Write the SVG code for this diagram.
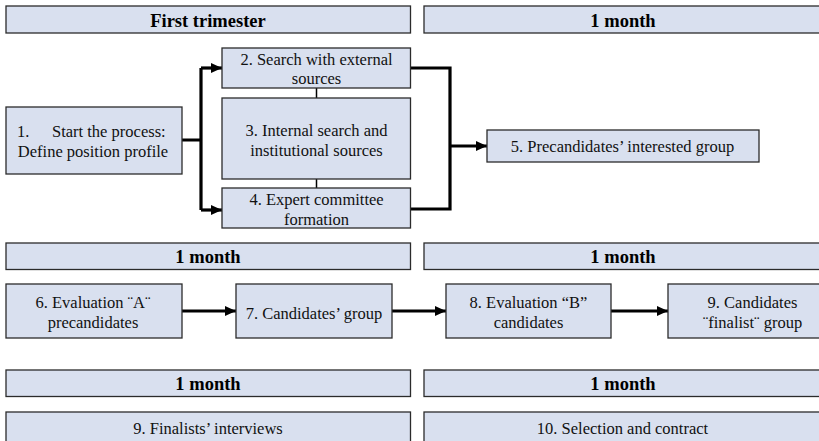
<svg xmlns="http://www.w3.org/2000/svg" width="819" height="441" viewBox="0 0 819 441">
  <style>
    .box { fill: #d9e0ef; stroke: #2b2b2b; stroke-width: 1.3; }
    .hdr { font-family: "Liberation Serif", "Times New Roman", serif; font-size: 18.5px; font-weight: bold; fill: #000; text-anchor: middle; }
    .lbl { font-family: "Liberation Serif", "Times New Roman", serif; font-size: 16.5px; fill: #111; text-anchor: middle; }
    .lbl.start { text-anchor: start; }
    .conn { fill: none; stroke: #000; stroke-width: 3.2; }
    .thin { fill: none; stroke: #000; stroke-width: 1.5; }
  </style>
  <defs>
    <marker id="arrow" markerUnits="userSpaceOnUse" markerWidth="12" markerHeight="12" viewBox="0 0 12 12" refX="11" refY="6" orient="auto">
      <path d="M0,1 L11,6 L0,11 Z" fill="#000"/>
    </marker>
  </defs>
  <rect width="819" height="441" fill="#fff"/>

  <!-- period headers -->
  <g id="hdr-first-trimester"><rect class="box" x="6" y="6" width="404.5" height="27"/><text class="hdr" x="208" y="26.5">First trimester</text></g>
  <g id="hdr-month-1"><rect class="box" x="424" y="6" width="400" height="27"/><text class="hdr" x="623" y="26.5">1 month</text></g>
  <g id="hdr-month-2"><rect class="box" x="6" y="243" width="404.5" height="26.5"/><text class="hdr" x="208" y="262.5">1 month</text></g>
  <g id="hdr-month-3"><rect class="box" x="424" y="243" width="400" height="26.5"/><text class="hdr" x="623" y="262.5">1 month</text></g>
  <g id="hdr-month-4"><rect class="box" x="6" y="370" width="404.5" height="26.5"/><text class="hdr" x="208" y="389.5">1 month</text></g>
  <g id="hdr-month-5"><rect class="box" x="424" y="370" width="400" height="26.5"/><text class="hdr" x="623" y="389.5">1 month</text></g>

  <!-- connectors -->
  <g id="connectors">
    <path class="conn" d="M182,140 H201 M201,68 V210"/>
    <path class="conn" d="M201,68 H222" marker-end="url(#arrow)"/>
    <path class="conn" d="M201,210 H222" marker-end="url(#arrow)"/>
    <path class="conn" d="M410.5,68 H450 V209 H410.5"/>
    <path class="conn" d="M450,146 H487" marker-end="url(#arrow)"/>
    <path class="thin" d="M316.5,88 V98 M316.5,179 V188"/>
    <path class="conn" d="M182,311 H236" marker-end="url(#arrow)"/>
    <path class="conn" d="M392,311 H446" marker-end="url(#arrow)"/>
    <path class="conn" d="M611,311 H668" marker-end="url(#arrow)"/>
  </g>

  <!-- process steps -->
  <g id="n1">
    <rect class="box" x="6" y="107" width="176" height="67"/>
    <text class="lbl start" x="17" y="137">1.</text>
    <text class="lbl start" x="52" y="137">Start the process:</text>
    <text class="lbl" x="93" y="157">Define position profile</text>
  </g>
  <g id="n2">
    <rect class="box" x="222" y="48" width="188.5" height="40"/>
    <text class="lbl" x="316.5" y="65">2. Search with external</text>
    <text class="lbl" x="316.5" y="84">sources</text>
  </g>
  <g id="n3">
    <rect class="box" x="222" y="98" width="188.5" height="81"/>
    <text class="lbl" x="316.5" y="135.5">3. Internal search and</text>
    <text class="lbl" x="316.5" y="155.5">institutional sources</text>
  </g>
  <g id="n4">
    <rect class="box" x="222" y="188" width="188.5" height="40"/>
    <text class="lbl" x="316.5" y="205">4. Expert committee</text>
    <text class="lbl" x="316.5" y="224.5">formation</text>
  </g>
  <g id="n5">
    <rect class="box" x="487" y="130" width="272" height="32"/>
    <text class="lbl" x="622.5" y="151.5">5. Precandidates’ interested group</text>
  </g>
  <g id="n6">
    <rect class="box" x="6" y="284" width="176" height="54"/>
    <text class="lbl" x="93" y="308">6. Evaluation ¨A¨</text>
    <text class="lbl" x="93" y="328">precandidates</text>
  </g>
  <g id="n7">
    <rect class="box" x="236" y="284" width="156" height="54"/>
    <text class="lbl" x="314" y="318.5">7. Candidates’ group</text>
  </g>
  <g id="n8">
    <rect class="box" x="446" y="284" width="165" height="54"/>
    <text class="lbl" x="528.5" y="308">8. Evaluation “B”</text>
    <text class="lbl" x="528.5" y="328">candidates</text>
  </g>
  <g id="n9">
    <rect class="box" x="668" y="284" width="168" height="54"/>
    <text class="lbl" x="752.5" y="308">9. Candidates</text>
    <text class="lbl" x="752.5" y="328">¨finalist¨ group</text>
  </g>
  <g id="n10">
    <rect class="box" x="6" y="412" width="404.5" height="40"/>
    <text class="lbl" x="208" y="434">9. Finalists’ interviews</text>
  </g>
  <g id="n11">
    <rect class="box" x="424" y="412" width="400" height="40"/>
    <text class="lbl" x="622.5" y="434">10. Selection and contract</text>
  </g>
</svg>
